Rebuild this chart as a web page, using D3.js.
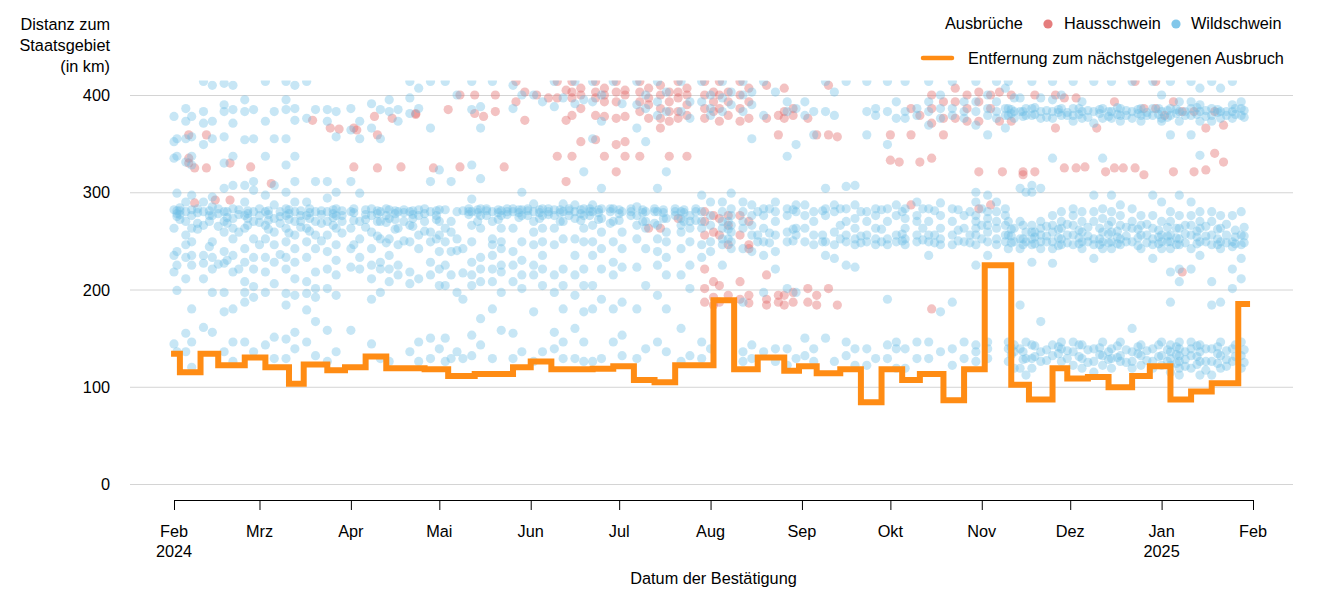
<!DOCTYPE html>
<html><head><meta charset="utf-8">
<script src="https://cdn.jsdelivr.net/npm/d3@7"></script>
<style>body{margin:0;background:#fff}svg{font-family:"Liberation Sans",Arial,sans-serif;display:block}</style>
</head><body><svg id="c" width="1333" height="600"></svg>
<script>
// ---------- data ----------
const monthLabels = ["Feb","Mrz","Apr","Mai","Jun","Jul","Aug","Sep","Okt","Nov","Dez","Jan","Feb"];
const yearLabels = ["2024","","","","","","","","","","","2025",""];
const yTicks = [0,100,200,300,400];
const yTitle = ["Distanz zum","Staatsgebiet","(in km)"];
const legendTitle = "Ausbrüche";
const seriesNames = ["Hausschwein","Wildschwein"];
const lineName = "Entfernung zum nächstgelegenen Ausbruch";
const xTitle = "Datum der Bestätigung";

// step line: day offset from 2024-02-01, km
const stepDays = [-1,2,9,15,24,31,39,44,52,58,65,72,85,93,102,115,121,128,142,149,156,163,170,183,190,198,207,212,218,226,233,240,247,253,261,268,275,284,290,298,303,310,317,325,331,338,345,352,361,365];
const stepKm = [134,115,134,122,130,120,103,123,117,120,131,119,118,111,113,120,126,118,118.5,121,107,104.5,122,189,118,130,116.5,121,114,118,84,118,107,113,86,118,225,102,87,119,108.5,110,99.5,111,121,87,95,103.5,185,185];

// outbreaks: [day offset from 2024-02-01, [distances in km]]
const wildschwein = [
[0,[378,352,335,282,263,235,218,144]],[1,[355,337,299,278,281,275,239,225,199,136]],
[4,[386,373,355,331,290,280,270,256,246,233,211,155,136]],[6,[378,357,337,328,297,282,276,263,249,235,225,180,146,120]],
[10,[414,383,371,349,290,280,266,235,227,211,161]],[13,[410,373,355,295,285,276,249,233,221,197,156]],
[17,[412,390,383,357,330,304,280,270,259,239,227,197,177,136]],[20,[410,385,371,337,307,283,273,263,252,235,218,180,146,126]],
[24,[395,383,354,307,290,276,263,242,228,208,197,187,146]],[27,[385,355,311,302,280,270,252,233,221,203,192,136]],
[31,[414,373,337,297,280,266,252,233,218,197,143]],[34,[383,355,307,287,273,259,246,228,206,151,129]],
[38,[414,395,385,355,328,300,283,276,263,249,233,221,196,184,149,129]],[41,[410,386,374,337,311,290,280,270,256,242,228,211,194,156,139]],
[45,[414,376,290,276,263,249,233,208,196,179,146]],[48,[385,311,280,270,256,242,218,201,192,167,132]],
[52,[385,373,311,294,280,270,256,239,221,201,158,126]],[55,[383,357,300,283,276,263,246,230,215,194,136]],
[60,[386,364,311,280,263,242,223,158]],[63,[373,355,299,270,252,233,221]],
[67,[391,366,283,276,259,242,225,211,190,144]],[70,[385,355,280,270,252,228,221,197,129]],
[73,[395,383,282,273,252,235,221,208,126]],[76,[385,373,280,263,246,225,215]],
[80,[414,397,381,280,266,249,218,206,136]],[83,[407,386,282,276,256,242,211,146,126]],
[87,[414,366,311,280,259,249,228,215,150,129]],[90,[323,282,270,256,239,221,204,139]],
[92,[414,282,263,249,225,204,150,126]],[94,[311,270,259,239,215,129]],
[96,[400,280,252,240,197,136]],[98,[281,242,217,190,129]],
[101,[414,385,328,293,280,266,249,228,215,204,153,132]],[104,[388,366,314,283,276,263,233,221,208,170,143]],
[108,[414,280,270,252,246,235,221,208,180,129]],[111,[281,276,263,249,242,225,218,197,158]],
[115,[410,386,283,280,263,239,225,208,155,129]],[118,[400,300,282,276,249,230,215,201,136]],
[122,[400,288,280,270,259,246,225,215,177,126]],[125,[393,283,276,263,249,235,221,204,136]],
[129,[414,388,282,276,263,246,215,197,156,139]],[132,[397,288,280,270,252,221,204,180,146,129]],
[136,[414,391,287,280,273,252,235,215,194,160,129]],[139,[395,321,283,276,263,249,221,204,177,146,126]],
[142,[414,393,355,287,280,266,249,235,204,180,126]],[145,[400,373,304,283,273,259,242,221,190,129]],
[149,[414,283,270,249,228,215,180,146]],[152,[391,280,259,242,223,187,153,132]],
[157,[414,390,366,285,276,266,252,223,180,129]],[160,[400,386,352,280,270,263,242,204,139]],
[164,[414,393,379,304,280,266,252,239,225,194,146]],[167,[403,383,321,273,259,249,233,215,180,136]],
[172,[414,383,280,273,266,259,242,215,160,126]],[175,[393,376,276,270,263,249,225,201,132]],
[179,[414,393,297,280,270,263,246,233,146,129]],[182,[400,386,379,290,276,266,249,239,139]],
[186,[414,397,383,290,280,270,263,252,246,225]],[189,[403,390,299,283,276,266,259,249,242]],
[193,[414,400,383,290,280,270,263,242,187,136,126]],[196,[403,390,355,287,276,266,256,239,143,129]],
[200,[414,379,283,276,263,249,235,197,136]],[204,[403,290,280,270,256,239,221,139,126]],
[208,[393,383,337,283,276,259,249,201,139,122]],[211,[386,349,287,280,263,256,197,129]],
[214,[393,379,287,276,263,249,150,132]],[217,[383,359,280,270,256,246,139,126]],
[221,[414,383,304,283,276,249,235,150]],[224,[403,379,287,280,259,246,232,126]],
[228,[414,306,283,270,256,249,225,146,132]],[231,[307,287,273,263,252,246,223,139,122]],
[235,[414,383,359,280,270,256,249,139,122]],[238,[386,379,283,276,263,252,246,129]],
[242,[414,383,349,283,270,252,246,190,143,129]],[245,[393,376,287,276,256,249,146,139,119]],
[248,[414,383,376,283,273,263,252,246,139,119]],[252,[386,379,290,276,270,256,249,146,129]],
[256,[414,393,383,369,283,270,256,249,235,146,129]],[260,[400,386,376,289,276,263,252,246,177,136]],
[264,[414,386,379,283,270,256,246,187,139,122]],[268,[393,383,376,276,263,249,146,129]],
[272,[414,393,383,369,300,290,276,270,263,256,246,225,143,136,126]],[276,[400,386,379,359,297,280,273,266,259,249,235,146,139,129]],
[279,[414,393,383,376,290,280,270,263,252,246]],[282,[407,386,379,366,283,276,266,256,249]],
[283,[414,386,379,270,256,242,146,139,126]],[285,[397,383,376,263,249,143,136,119]],
[287,[397,383,304,270,252,242,184,139,119]],[289,[386,379,300,259,249,146,129,112]],
[291,[414,386,379,307,300,266,259,252,246,228,143,129,119]],[294,[397,383,376,304,270,263,256,249,242,167,136,126]],
[298,[414,395,383,376,335,276,266,259,249,242,227,143,132]],[301,[400,386,379,280,270,263,252,246,146,139,126]],
[305,[414,386,379,373,283,276,266,256,246,146,136,122]],[308,[393,383,376,280,270,259,249,242,143,129,119]],
[312,[414,383,371,297,280,270,252,246,232,139,126,115]],[315,[386,376,335,283,273,259,249,242,146,132,122]],
[318,[414,383,376,297,280,270,259,249,242,139,129,119]],[321,[386,379,373,287,276,266,252,246,146,132,126]],
[325,[414,383,376,283,270,263,249,160,136,126,119]],[328,[386,379,373,276,266,256,242,143,132,122]],
[332,[414,386,379,297,276,263,252,246,232,139,126,119]],[335,[400,383,376,373,290,270,256,249,242,146,132,122]],
[338,[414,386,379,359,280,270,256,249,242,218,187,143,136,129,122,115]],[341,[393,383,373,297,276,263,252,246,221,208,146,139,132,126,119,112]],
[345,[414,393,386,379,359,290,276,266,256,242,221,146,139,132,119]],[348,[407,390,383,373,338,280,270,263,249,235,143,136,126,112]],
[352,[414,386,379,373,280,270,256,246,208,184,139,126,112]],[355,[407,383,376,276,263,249,242,187,146,132,119]],
[359,[414,390,383,376,276,249,244,221,201,139,126]],[362,[393,386,379,280,256,246,232,211,146,132,119]],
// denser clusters
[2,[281,277,272,284]],[8,[279,283,268,262]],[12,[281,276,270,244]],[15,[283,278,265,226]],[18,[280,274,268,230]],
[22,[282,277,259,221]],[25,[281,278,273,266]],[29,[283,276,269,246]],[32,[281,277,271,262]],[36,[280,275,268,236]],
[39,[282,278,272,258]],[43,[281,276,270,264]],[46,[283,279,273,260]],[50,[281,277,268,250]],[54,[282,278,274,266]],
[57,[281,276,270,258]],[61,[283,279,271,246]],[65,[282,277,272,264]],[69,[281,278,270,255]],[72,[283,276,269,248]],
[75,[281,278,272,262]],[78,[282,279,270,250]],[81,[281,277,273,265]],[85,[283,278,270,260]],[89,[281,276,272,252]],
[100,[283,280,277]],[103,[282,279,270]],[106,[283,281,276]],[110,[282,279,272]],[113,[283,280,277]],[117,[282,279,274]],
[120,[283,281,276]],[124,[282,279,273]],[127,[283,280,277]],[131,[282,279,270]],[134,[283,281,276]],[138,[282,278,271]],
[141,[283,280,276]],[144,[282,279,272]],[148,[283,280,268]],[151,[282,278,271]],[155,[283,280,276]],[159,[282,279,270]],
[163,[283,280,268]],[166,[282,279,273]],[170,[283,280,276]],[173,[282,279,270]],[177,[283,280,271]],
[188,[270,262,252]],[198,[280,256,249]],[202,[283,258,248]],[210,[282,262,250]],[220,[281,256,249]],[226,[283,266,252]],
[233,[280,255,248]],[240,[282,262,249]],[247,[280,257,250]],[254,[283,263,251]],[258,[281,256,248]],[266,[282,261,250]],
[270,[280,256,248]],[274,[283,266,252]],
[284,[385,381,262,255,248,140,133]],[288,[383,378,266,252,246,136,128]],[292,[387,380,259,254,247,142,131]],
[296,[384,377,265,255,249,138,127]],[300,[385,382,262,253,245,141,134]],[303,[382,379,267,256,248,137,129]],
[307,[386,380,261,253,247,143,131]],[310,[384,377,264,255,249,138,125]],[314,[385,381,263,252,246,140,133]],
[317,[383,378,266,257,248,136,128]],[320,[387,380,260,254,247,142,130]],[323,[384,379,264,255,249,138,125]],
[327,[385,381,262,253,245,141,134]],[330,[382,379,267,256,248,137,127]],[334,[386,380,261,254,247,143,131]],
[337,[384,377,264,255,249,138,126]],[340,[385,381,263,253,246,141,133,124]],[343,[383,379,266,257,248,136,128,121]],
[347,[387,380,260,254,247,142,131,123]],[350,[384,378,265,255,249,139,126,117]],[354,[385,382,262,252,246,141,134,124]],
[357,[383,379,267,256,248,137,128,121]],[360,[386,380,261,254,247,143,131]],[363,[384,377,264,255,248,138,125]]
];
const hausschwein = [
[5,[359,335,330]],[7,[325,289]],[11,[359,325]],[14,[292]],[19,[330,292]],[26,[326]],[33,[309]],
[47,[374]],[53,[366]],[56,[365]],[61,[366,326]],[62,[364]],[68,[378]],[69,[359,325]],
[74,[376]],[77,[326]],[82,[381,380]],[88,[325]],[93,[385]],[97,[400,326]],
[102,[400,381]],[105,[378]],[109,[383,400]],[112,[326]],[116,[393,414]],[119,[374,403]],
[123,[400]],[127,[397]],[130,[414,397,337]],[133,[405,374,311]],
[135,[414,403,397,379,337]],[138,[407,400,386,352]],[143,[414,403,397,379,354]],[146,[407,400,393,378,337]],
[150,[414,403,393,376,349,321]],[153,[405,400,378,352,337]],[158,[414,403,393,383,337]],[161,[407,397,390,376,263]],
[165,[410,400,386,376,366,263]],[168,[403,393,383,373,337]],[171,[414,403,397,383,376,273]],[174,[407,400,390,379,337]],
[180,[414,400,386,376,280,270,256,221,201,187]],[183,[403,393,383,276,259,208,192,184]],
[185,[414,400,386,373,273,256,204,187]],[188,[403,393,379,276,266,246,194]],
[192,[414,400,386,373,276,256,208,190]],[195,[407,393,376,270,246,242,194,186]],
[201,[410,376,215,190,184]],[205,[379,359,194,187]],[207,[407,383,376,194,184]],[210,[386,379,197,187]],
[215,[376,201,187]],[218,[359,194,184]],[222,[410,359,201]],[225,[357,184]],
[243,[359,333]],[246,[331]],[250,[386,359,287]],[253,[379,331]],[257,[400,386,371,335,180]],[261,[393,376,359]],
[265,[407,393,376]],[269,[400,386,373]],[273,[403,393,373,321,283]],[277,[400,386,287]],
[280,[403,373]],[281,[321]],[284,[400,373]],[288,[321,318]],[292,[400,321]],
[299,[400,366]],[302,[397,325]],[306,[397,325]],[309,[326]],[313,[366]],[316,[321]],
[319,[393,325]],[322,[325]],[326,[414,325]],[329,[386,318]],[333,[386,414]],[336,[379]],
[339,[393,321]],[342,[383,218]],[346,[383,321]],[350,[366,323]],[353,[383,340]],[356,[369,331]]
];

// ---------- chart ----------
const colRed = "#e06666", colBlue = "#6cbde6", colLine = "#ff8c14";
const FS = 16.3;
const svg = d3.select("#c");
const t0 = Date.UTC(2024,1,1);
const day = d => new Date(t0 + d*864e5);
const x = d3.scaleUtc().domain([new Date(Date.UTC(2024,1,1)), new Date(Date.UTC(2025,1,1))]).range([174,1253]);
const y = d3.scaleLinear().domain([0,400]).range([484,95]);

// grid
svg.append("g").selectAll("line").data(yTicks).join("line")
  .attr("x1",130).attr("x2",1293).attr("y1",d=>y(d)+0.5).attr("y2",d=>y(d)+0.5)
  .attr("stroke","#d4d4d4").attr("stroke-width",1);
svg.append("g").selectAll("text").data(yTicks).join("text")
  .attr("x",110).attr("y",d=>y(d)+6).attr("text-anchor","end")
  .attr("font-size",FS).attr("fill","#000").text(d=>d);
svg.append("g").selectAll("text").data(yTitle).join("text")
  .attr("x",110).attr("y",(d,i)=>30+i*21).attr("text-anchor","end")
  .attr("font-size",FS).attr("fill","#000").text(d=>d);

// clip
svg.append("defs").append("clipPath").attr("id","clip").append("rect")
  .attr("x",0).attr("y",y(415)).attr("width",1333).attr("height",600);

const flat = arr => arr.flatMap(([d,ks]) => ks.map(k => ({d,k})));
const plot = svg.append("g").attr("clip-path","url(#clip)");
plot.append("g").selectAll("circle").data(flat(hausschwein)).join("circle")
  .attr("cx",p=>x(day(p.d))).attr("cy",p=>y(p.k)).attr("r",4.6)
  .attr("fill",colRed).attr("fill-opacity",0.4);
plot.append("g").selectAll("circle").data(flat(wildschwein)).join("circle")
  .attr("cx",p=>x(day(p.d))).attr("cy",p=>y(p.k)).attr("r",4.6)
  .attr("fill",colBlue).attr("fill-opacity",0.38);

// step line
const stepData = stepDays.map((d,i)=>({d,k:stepKm[i]}));
plot.append("path").datum(stepData)
  .attr("d", d3.line().x(p=>x(day(p.d))).y(p=>y(p.k)).curve(d3.curveStepAfter))
  .attr("fill","none").attr("stroke",colLine).attr("stroke-width",6);

// x axis
const months = monthLabels.map((m,i)=>new Date(Date.UTC(2024,1+i,1)));
const ax = svg.append("g").attr("transform","translate(0,500)")
  .call(d3.axisBottom(x).tickValues(months).tickSize(10).tickSizeOuter(0).tickFormat(""));
ax.select(".domain").attr("stroke","#000");
ax.selectAll(".tick line").attr("stroke","#000");
svg.append("g").selectAll("text").data(months).join("text")
  .attr("x",d=>x(d)).attr("y",537).attr("text-anchor","middle").attr("font-size",FS).attr("fill","#000")
  .text((d,i)=>monthLabels[i]);
svg.append("g").selectAll("text").data(months).join("text")
  .attr("x",d=>x(d)).attr("y",557).attr("text-anchor","middle").attr("font-size",FS).attr("fill","#000")
  .text((d,i)=>yearLabels[i]);
svg.append("text").attr("x",(x.range()[0]+x.range()[1])/2).attr("y",584)
  .attr("text-anchor","middle").attr("font-size",FS).attr("fill","#000").text(xTitle);

// legend
const lg = svg.append("g").attr("font-size",FS).attr("fill","#000");
lg.append("text").attr("x",945).attr("y",29).text(legendTitle);
lg.append("circle").attr("cx",1048).attr("cy",24).attr("r",4.6).attr("fill",colRed).attr("fill-opacity",0.85);
lg.append("text").attr("x",1064).attr("y",29).text(seriesNames[0]);
lg.append("circle").attr("cx",1176).attr("cy",24).attr("r",4.6).attr("fill",colBlue).attr("fill-opacity",0.85);
lg.append("text").attr("x",1191).attr("y",29).text(seriesNames[1]);
lg.append("line").attr("x1",923).attr("x2",952).attr("y1",58).attr("y2",58)
  .attr("stroke",colLine).attr("stroke-width",4.5).attr("stroke-linecap","round");
lg.append("text").attr("x",968).attr("y",64).text(lineName);
</script></body></html>
